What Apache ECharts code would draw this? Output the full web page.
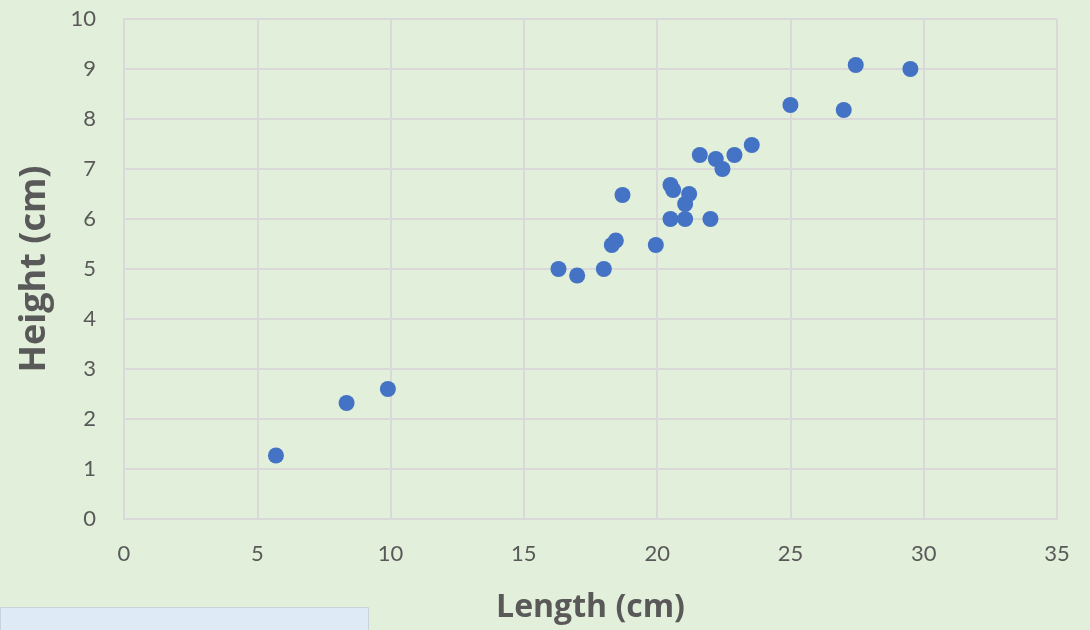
<!DOCTYPE html>
<html>
<head>
<meta charset="utf-8">
<script src="https://cdn.jsdelivr.net/npm/echarts@6/dist/echarts.min.js"></script>
<style>
html,body{margin:0;padding:0;background:#e2efda;}
#chart{width:1090px;height:630px;}
</style>
</head>
<body>
<div id="chart"></div>
<script>
var lengthCm = [5.7, 8.35, 9.9, 16.3, 17.0, 18.0, 18.3, 18.45, 18.7, 19.95, 20.5, 20.6, 20.5, 21.05, 21.05, 21.2, 22.0, 21.6, 22.2, 22.45, 22.9, 23.55, 25.0, 27.0, 27.45, 29.5];
var heightCm = [1.27, 2.32, 2.6, 5.0, 4.87, 5.0, 5.48, 5.57, 6.48, 5.48, 6.68, 6.58, 6.0, 6.0, 6.3, 6.5, 6.0, 7.28, 7.2, 7.0, 7.28, 7.48, 8.28, 8.18, 9.08, 9.0];
var xTitle = 'Length (cm)';
var yTitle = 'Height (cm)';

var points = lengthCm.map(function (v, i) { return [v, heightCm[i]]; });
var textColor = '#595959';
var gridColor = '#d9d9d9';
var chart = echarts.init(document.getElementById('chart'));
chart.setOption({
  backgroundColor: '#e2efda',
  animation: false,
  grid: { left: 124, right: 33, top: 19, bottom: 111 },
  xAxis: {
    type: 'value', min: 0, max: 35, interval: 5,
    name: xTitle, nameLocation: 'middle', nameGap: 73,
    nameTextStyle: { fontFamily: 'Open Sans', fontWeight: 'bold', fontSize: 32, color: textColor },
    axisLine: { show: true, lineStyle: { color: gridColor, width: 2 } },
    axisTick: { show: false },
    axisLabel: { margin: 24, fontFamily: 'Lato', fontSize: 22, color: textColor },
    splitLine: { show: true, lineStyle: { color: gridColor, width: 2 } }
  },
  yAxis: {
    type: 'value', min: 0, max: 10, interval: 1,
    name: yTitle, nameLocation: 'middle', nameGap: 71, nameRotate: 90,
    nameTextStyle: { fontFamily: 'Open Sans', fontWeight: 'bold', fontSize: 36, color: textColor },
    axisLine: { show: true, lineStyle: { color: gridColor, width: 2 } },
    axisTick: { show: false },
    axisLabel: { margin: 28, fontFamily: 'Lato', fontSize: 22, color: textColor },
    splitLine: { show: true, lineStyle: { color: gridColor, width: 2 } }
  },
  graphic: [{
    type: 'rect', left: 0, top: 607,
    shape: { width: 368, height: 30 },
    style: { fill: '#deeaf6', stroke: '#c9d3dc', lineWidth: 1 }
  }],
  series: [{
    type: 'scatter',
    data: points,
    symbol: 'circle',
    symbolSize: 16,
    itemStyle: { color: '#4472c4', opacity: 1 }
  }]
});
</script>
</body>
</html>
